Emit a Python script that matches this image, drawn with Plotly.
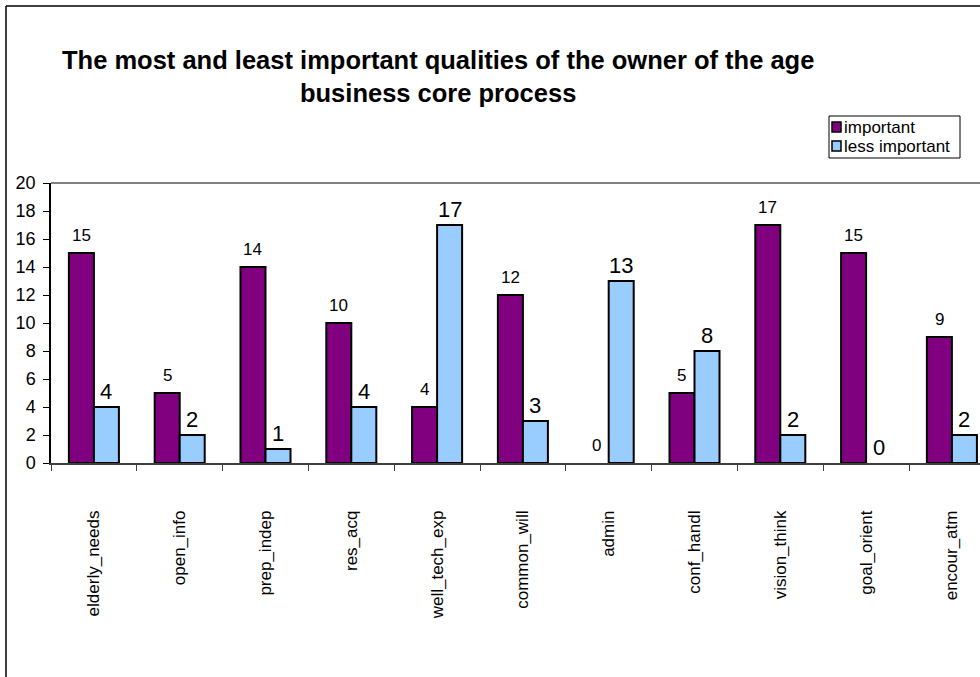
import plotly.graph_objects as go

# Qualities of the owner of the age business core process
categories = ["elderly_needs", "open_info", "prep_indep", "res_acq", "well_tech_exp",
              "common_will", "admin", "conf_handl", "vision_think", "goal_orient", "encour_atm"]
important = [15, 5, 14, 10, 4, 12, 0, 5, 17, 15, 9]
less_important = [4, 2, 1, 4, 17, 3, 13, 8, 2, 0, 2]
series_names = ["important", "less important"]
y_ticks = list(range(0, 21, 2))

FONT = "Liberation Sans, Arial, sans-serif"
PURPLE = "#800080"
LIGHT_BLUE = "#99CCFF"

# plot-area geometry in pixels (figure 980 x 677)
W, H = 980, 677
L, T, B = 51, 183, 214
PW, PH = W - L, H - T - B
CAT_W = 85.8               # pixel width of one category slot
X_MAX = -0.5 + PW / CAT_W  # right end of the visible category range
BARGAP = 0.417
BAR_PX = CAT_W * (1 - BARGAP) / 2


def px_x(px):
    return (px - L) / PW


def px_y(py):
    return (H - B - py) / PH


def outline_widths(values):
    # zero-height bars get no outline
    return [0 if v == 0 else 2 for v in values]


fig = go.Figure()
fig.add_trace(go.Bar(x=categories, y=important, name=series_names[0],
                     marker=dict(color=PURPLE,
                                 line=dict(color="black", width=outline_widths(important)))))
fig.add_trace(go.Bar(x=categories, y=less_important, name=series_names[1],
                     marker=dict(color=LIGHT_BLUE,
                                 line=dict(color="black", width=outline_widths(less_important)))))

# value labels above each bar
annotations = []
for cat, v in zip(categories, important):
    annotations.append(dict(x=cat, y=v, xref="x", yref="y", text=str(v), showarrow=False,
                            xshift=-BAR_PX / 2, yshift=6, yanchor="bottom",
                            font=dict(family=FONT, size=17, color="black")))
for cat, v in zip(categories, less_important):
    annotations.append(dict(x=cat, y=v, xref="x", yref="y", text=str(v), showarrow=False,
                            xshift=BAR_PX / 2, yshift=1, yanchor="bottom",
                            font=dict(family=FONT, size=22, color="black")))

# title (two lines)
annotations.append(dict(x=px_x(438), y=px_y(76), xref="paper", yref="paper",
                        text="<b>The most and least important qualities of the owner of the age<br>"
                             "business core process</b>",
                        showarrow=False, xanchor="center", yanchor="middle", align="center",
                        font=dict(family=FONT, size=25.5, color="black")))

shapes = [
    # grey top border of the plot area
    dict(type="line", xref="paper", yref="paper", x0=0, x1=1.2, y0=1, y1=1,
         line=dict(color="#808080", width=2)),
    # outer chart frame (left and top edges)
    dict(type="line", xref="paper", yref="paper", x0=px_x(6), x1=px_x(6),
         y0=px_y(700), y1=px_y(6), line=dict(color="black", width=1.5)),
    dict(type="line", xref="paper", yref="paper", x0=px_x(6), x1=px_x(1000),
         y0=px_y(6), y1=px_y(6), line=dict(color="black", width=1.5)),
    # legend box
    dict(type="rect", xref="paper", yref="paper", x0=px_x(829), x1=px_x(960),
         y0=px_y(158), y1=px_y(116), line=dict(color="black", width=1), fillcolor="white",
         layer="above"),
]

# legend entries: small outlined swatch followed by the series name
legend_rows = [127, 146]
for name, color, row in zip(series_names, [PURPLE, LIGHT_BLUE], legend_rows):
    shapes.append(dict(type="rect", xref="paper", yref="paper",
                       x0=px_x(832), x1=px_x(841), y0=px_y(row + 5), y1=px_y(row - 5),
                       line=dict(color="black", width=1.5), fillcolor=color, layer="above"))
    annotations.append(dict(x=px_x(842), y=px_y(row), xref="paper", yref="paper",
                            text=name, showarrow=False, xanchor="left", yanchor="middle",
                            font=dict(family=FONT, size=17, color="black")))

fig.update_layout(
    width=W, height=H,
    margin=dict(l=L, r=0, t=T, b=B, pad=0),
    paper_bgcolor="white", plot_bgcolor="white",
    barmode="group", bargap=BARGAP, bargroupgap=0,
    font=dict(family=FONT, size=17, color="black"),
    showlegend=False,
    annotations=annotations,
    shapes=shapes,
)
fig.update_xaxes(type="category", range=[-0.5, X_MAX], tickangle=-90,
                 ticks="outside", tickson="boundaries", ticklen=6, tickcolor="#404040",
                 showline=True, linecolor="#404040", linewidth=1.5, showgrid=False,
                 ticklabelstandoff=39, tickfont=dict(family=FONT, size=17))
fig.update_yaxes(range=[0, 20], tickvals=y_ticks, ticks="outside", ticklen=6,
                 tickcolor="black", showline=True, linecolor="black", linewidth=1.5,
                 showgrid=False, zeroline=False, ticklabelstandoff=4,
                 tickfont=dict(family=FONT, size=18))

fig.write_html("out.html")
